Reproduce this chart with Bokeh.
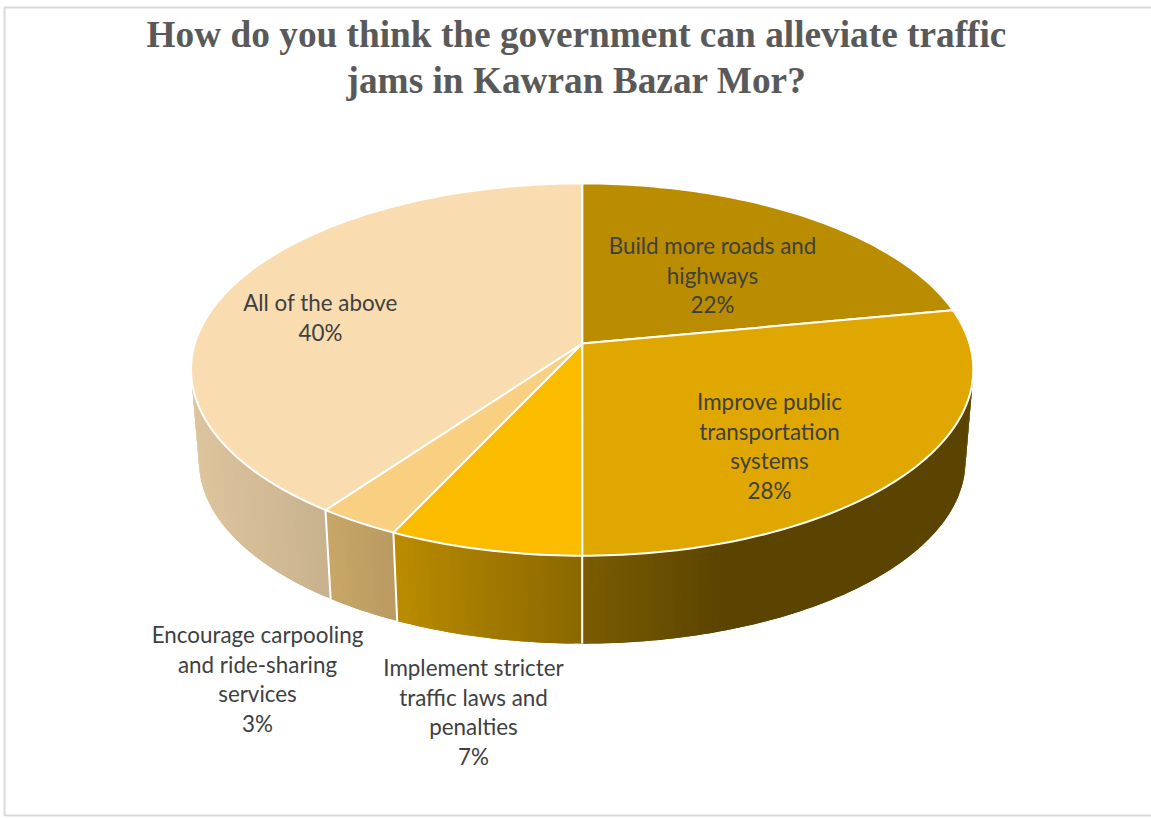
import numpy as np
from bokeh.core.properties import value
from bokeh.embed import file_html
from bokeh.models import Range1d
from bokeh.plotting import figure
from bokeh.resources import INLINE

title_lines = [
    "How do you think the government can alleviate traffic",
    "jams in Kawran Bazar Mor?",
]
categories = [
    ["Build more roads and", "highways"],
    ["Improve public", "transportation", "systems"],
    ["Implement stricter", "traffic laws and", "penalties"],
    ["Encourage carpooling", "and ride-sharing", "services"],
    ["All of the above"],
]
shares = [22, 28, 7, 3, 40]
top_colors = ["#BA8C00", "#DFA700", "#FBBC00", "#F9CF82", "#F9DDB1"]

# Label blocks: centre x and the vertical centre of the first line.
label_anchors = [(712, 245), (769, 401), (473, 667), (257, 634), (320, 302)]
label_leading = 29.5

# Pie geometry in page pixels: a tilted disc with a perspective foreshortening.
CX = 581.7
TILT = 0.14
TOP_APEX_Y, TOP_SX, TOP_SY = 343, 387.3, 182.5
BASE_APEX_Y, BASE_SX, BASE_SY = 435, 379.5, 179

# Wall shading as a brightness factor along x.
SHADE_X = [190, 330, 397, 582, 720, 980]
SHADE_F = [0.89, 0.80, 0.74, 0.55, 0.41, 0.41]


def rim(theta, apex_y, sx, sy):
    """Point on a disc rim; theta is clockwise from twelve o'clock, in radians."""
    across, along = np.sin(theta), np.cos(theta)
    d = 1 + TILT * along
    return CX + sx * across / d, apex_y - sy * along / d


def shade(hex_color, x):
    f = float(np.interp(x, SHADE_X, SHADE_F))
    rgb = [int(hex_color[i:i + 2], 16) for i in (1, 3, 5)]
    return "#%02x%02x%02x" % tuple(int(round(c * f)) for c in rgb)


p = figure(
    width=1151, height=818, output_backend="svg", toolbar_location=None,
    x_range=Range1d(0, 1151), y_range=Range1d(818, 0),
    min_border=0, outline_line_color=None,
)
p.axis.visible = False
p.grid.visible = False

# Chart frame; its right side runs off the page.
p.quad(left=[4], right=[1170], top=[7], bottom=[815], fill_color="white",
       line_color="#d9d9d9", line_width=2)

edges = np.cumsum([0] + shares) / sum(shares) * 2 * np.pi
wall_limit = np.arccos(-TILT)

# Side wall: narrow strips so the brightness can vary along x. Each strip runs
# under its neighbour, which keeps antialiased seams from showing the page.
strip_xs, strip_ys, strip_cols = [], [], []
div_xs, div_ys = [], []
for start, stop, color in zip(edges[:-1], edges[1:], top_colors):
    lo = max(start, wall_limit)
    hi = min(stop, 2 * np.pi - wall_limit)
    if hi <= lo:
        continue
    steps = max(2, int(np.degrees(hi - lo) / 1.0))
    t = np.linspace(lo, hi, steps + 1)
    tx, ty = rim(t, TOP_APEX_Y, TOP_SX, TOP_SY)
    bx, by = rim(t, BASE_APEX_Y, BASE_SX, BASE_SY)
    for i in range(steps):
        j = min(i + 2, steps)
        strip_xs.append([tx[i], *tx[i + 1:j + 1], *bx[i + 1:j + 1][::-1], bx[i]])
        strip_ys.append([ty[i], *ty[i + 1:j + 1], *by[i + 1:j + 1][::-1], by[i]])
        strip_cols.append(shade(color, (tx[i] + tx[i + 1]) / 2))
    if start >= wall_limit:
        div_xs.append([tx[0], bx[0]])
        div_ys.append([ty[0], by[0]])

p.patches(strip_xs, strip_ys, fill_color=strip_cols, line_color=None)
p.multi_line(div_xs, div_ys, line_color="white", line_width=2)

# Top face: one wedge per share, from the perspective apex out to the rim.
wedge_xs, wedge_ys = [], []
for start, stop in zip(edges[:-1], edges[1:]):
    t = np.linspace(start, stop, max(3, int(np.degrees(stop - start))))
    x, y = rim(t, TOP_APEX_Y, TOP_SX, TOP_SY)
    wedge_xs.append([CX, *x])
    wedge_ys.append([TOP_APEX_Y, *y])
p.patches(wedge_xs, wedge_ys, fill_color=top_colors, line_color="white", line_width=2,
          line_join="round")

# Title
p.text([576, 576], [34, 80], text=title_lines, text_align="center",
       text_baseline="middle", text_font=value("Liberation Serif"),
       text_font_style="bold", text_font_size="37.3px", text_color="#595959")

# Slice labels, each closing with its share
lx, ly, lt = [], [], []
for lines, share, (ax, ay) in zip(categories, shares, label_anchors):
    for n, line in enumerate([*lines, f"{share}%"]):
        lx.append(ax)
        ly.append(ay + n * label_leading)
        lt.append(line)
p.text(lx, ly, text=lt, text_align="center", text_baseline="middle",
       text_font=value("Lato"), text_font_size="22.4px", text_color="#404040")

open("out.html", "w").write(file_html(p, INLINE))
